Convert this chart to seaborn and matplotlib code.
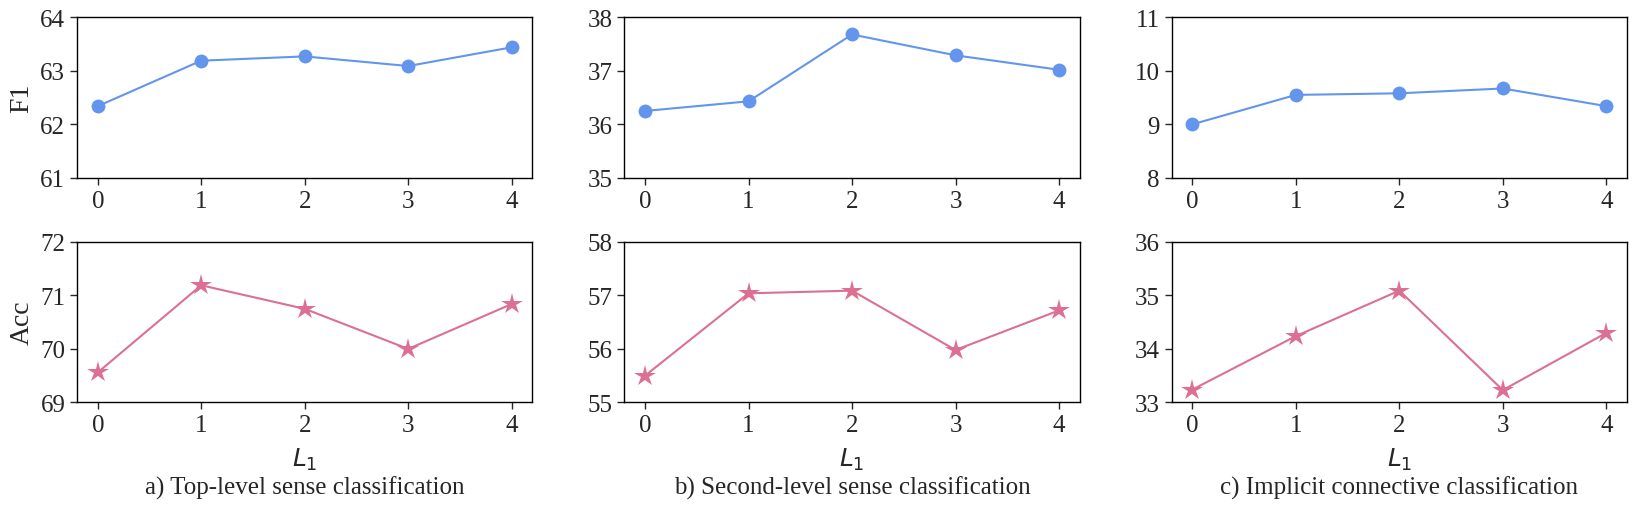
import matplotlib
matplotlib.use("Agg")
import matplotlib.pyplot as plt
import seaborn as sns

# L1 values on the x axis
l1 = [0, 1, 2, 3, 4]

# F1 scores (top row)
f1_top = [62.34, 63.19, 63.27, 63.09, 63.44]
f1_second = [36.25, 36.43, 37.68, 37.29, 37.02]
f1_conn = [9.00, 9.55, 9.58, 9.67, 9.34]

# Accuracy (bottom row)
acc_top = [69.56, 71.19, 70.75, 70.00, 70.84]
acc_second = [55.50, 57.04, 57.09, 55.98, 56.72]
acc_conn = [33.24, 34.24, 35.09, 33.23, 34.30]

f1_ylims = [(61, 64), (35, 38), (8, 11)]
acc_ylims = [(69, 72), (55, 58), (33, 36)]
captions = [
    "a) Top-level sense classification",
    "b) Second-level sense classification",
    "c) Implicit connective classification",
]

sns.set_style("ticks")
plt.rcParams["font.family"] = ["Liberation Serif", "DejaVu Serif"]
plt.rcParams["mathtext.fontset"] = "dejavusans"

blue = "#6495ED"
pink = "#DB7093"

fig, axes = plt.subplots(2, 3, figsize=(16.36, 5.10), dpi=100)
fig.subplots_adjust(left=0.0471, right=0.9945, top=0.964, bottom=0.209,
                    wspace=0.202, hspace=0.40)

f1_data = [f1_top, f1_second, f1_conn]
acc_data = [acc_top, acc_second, acc_conn]

for i in range(3):
    ax = axes[0, i]
    sns.lineplot(x=l1, y=f1_data[i], ax=ax, color=blue, marker="o",
                 markersize=10, markeredgewidth=0, linewidth=1.5)
    ax.set_ylim(*f1_ylims[i])
    ax.set_yticks(range(f1_ylims[i][0], f1_ylims[i][1] + 1))

    ax = axes[1, i]
    sns.lineplot(x=l1, y=acc_data[i], ax=ax, color=pink, marker="*",
                 markersize=16, markeredgewidth=0, linewidth=1.5)
    ax.set_ylim(*acc_ylims[i])
    ax.set_yticks(range(acc_ylims[i][0], acc_ylims[i][1] + 1))
    ax.set_xlabel("$L_1$", fontsize=18)
    ax.xaxis.set_label_coords(0.5, -0.27)
    ax.text(0.5, -0.567, captions[i], transform=ax.transAxes,
            ha="center", va="baseline", fontsize=18)

for ax in axes.flat:
    ax.set_xticks(l1)
    ax.set_xlim(-0.2, 4.2)
    ax.tick_params(labelsize=18, width=1, length=5)
    for s in ax.spines.values():
        s.set_linewidth(1)
        s.set_color("black")

axes[0, 0].set_ylabel("F1", fontsize=20)
axes[1, 0].set_ylabel("Acc", fontsize=20)

fig.savefig("out.png", dpi=100)
